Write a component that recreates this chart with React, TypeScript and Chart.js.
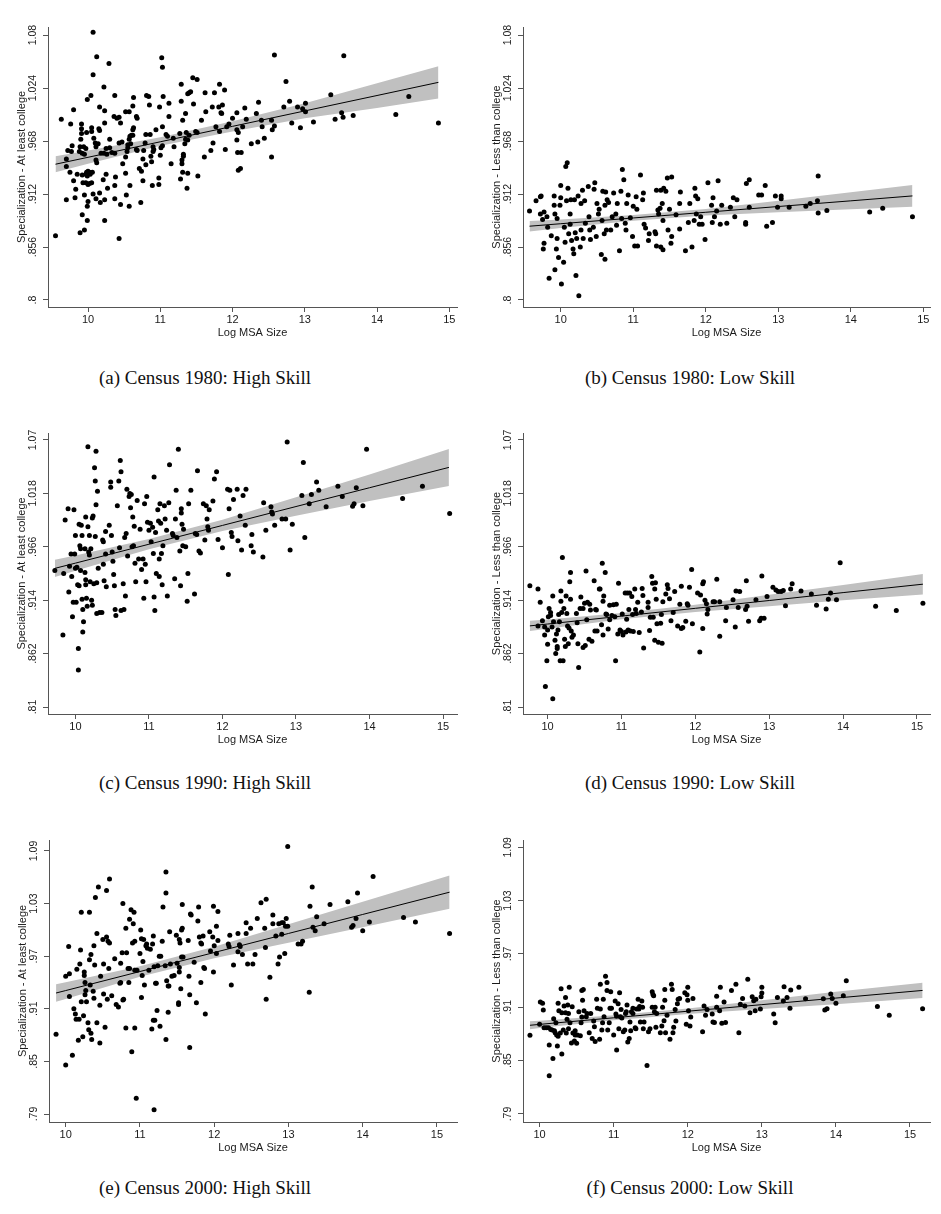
import React, { useEffect, useRef } from "react";
import { Chart, registerables } from "chart.js";

Chart.register(...registerables);

// ---------- shared axis labels ----------
const xTicks = [10, 11, 12, 13, 14, 15];
const xTitle = "Log MSA Size";
const yTitleHigh = "Specialization - At least college";
const yTitleLow = "Specialization - Less than college";

const yTicks1980 = [0.8, 0.856, 0.912, 0.968, 1.024, 1.08];
const yLabels1980 = [".8", ".856", ".912", ".968", "1.024", "1.08"];
const yTicks1990 = [0.81, 0.862, 0.914, 0.966, 1.018, 1.07];
const yLabels1990 = [".81", ".862", ".914", ".966", "1.018", "1.07"];
const yTicks2000 = [0.79, 0.85, 0.91, 0.97, 1.03, 1.09];
const yLabels2000 = [".79", ".85", ".91", ".97", "1.03", "1.09"];

const captions = [
  "(a) Census 1980: High Skill",
  "(b) Census 1980: Low Skill",
  "(c) Census 1990: High Skill",
  "(d) Census 1990: Low Skill",
  "(e) Census 2000: High Skill",
  "(f) Census 2000: Low Skill",
];

// ---------- (a) 1980 high skill ----------
const pointsA: number[][] = [
  [9.55,0.868],[9.63,0.991],[9.70,0.949],[9.70,0.941],[9.70,0.906],[9.76,0.986],[9.75,0.935],[9.80,1.001],[9.78,0.963],[9.72,0.958],
  [9.77,0.957],[9.80,0.926],[9.83,0.917],[9.82,0.908],[9.85,0.933],[9.89,0.871],[9.92,0.890],[9.95,0.874],[9.99,0.884],[9.99,0.899],
  [9.95,0.911],[9.91,0.986],[9.91,0.981],[9.91,0.976],[9.90,0.970],[9.89,0.962],[9.88,0.957],[9.92,0.955],[9.95,0.954],[9.98,0.977],
  [9.99,1.012],[10.04,1.016],[10.07,1.083],[10.12,1.057],[10.07,1.038],[10.05,0.982],[10.05,0.978],[10.08,0.971],[10.11,0.962],[10.10,0.966],
  [10.14,0.965],[10.16,0.979],[10.15,0.981],[10.11,0.948],[10.12,0.945],[10.16,1.004],[10.23,1.000],[10.23,0.987],[10.22,1.025],[10.18,0.955],
  [10.22,0.955],[10.26,0.954],[10.25,0.960],[10.16,0.913],[10.17,0.903],[10.23,0.906],[10.23,0.884],[10.21,0.927],[10.25,0.933],[9.98,0.935],
  [10.00,0.936],[10.02,0.935],[10.06,0.935],[10.03,0.933],[9.99,0.931],[9.93,0.924],[9.97,0.924],[10.00,0.922],[10.02,0.923],[10.05,0.924],
  [9.92,0.932],[9.97,0.933],[9.94,0.962],[9.97,0.960],[10.00,0.904],[10.07,0.912],[10.11,0.907],[10.29,1.050],[10.27,0.918],[10.30,0.970],
  [10.30,0.961],[10.33,0.956],[10.37,1.016],[10.36,0.994],[10.40,0.992],[10.43,0.993],[10.45,0.987],[10.37,0.921],[10.37,0.907],[10.38,0.930],
  [10.37,0.955],[10.43,0.865],[10.45,0.901],[10.43,0.966],[10.47,0.967],[10.48,0.944],[10.52,0.951],[10.52,0.934],[10.53,0.911],[10.54,0.957],
  [10.52,0.999],[10.57,0.999],[10.57,0.970],[10.58,0.973],[10.55,0.961],[10.58,0.921],[10.57,0.899],[10.60,0.974],[10.62,1.005],[10.63,1.014],
  [10.62,0.980],[10.63,0.982],[10.67,0.994],[10.68,0.992],[10.67,0.959],[10.68,0.958],[10.62,0.974],[10.59,0.965],[10.55,0.964],[10.71,0.939],
  [10.73,0.903],[10.74,0.936],[10.76,0.949],[10.76,0.926],[10.77,0.958],[10.79,0.966],[10.80,0.975],[10.80,0.943],[10.81,1.016],[10.84,1.015],
  [10.85,1.006],[10.86,0.975],[10.87,0.952],[10.88,0.946],[10.90,0.962],[10.90,0.957],[10.89,0.921],[10.94,0.980],[10.91,0.959],[10.99,1.004],
  [11.00,0.953],[11.01,0.961],[11.03,0.963],[10.98,0.922],[10.98,0.929],[11.02,1.056],[11.03,1.046],[11.04,1.015],[11.03,0.983],[11.08,0.975],
  [11.10,0.973],[11.12,1.008],[11.12,0.994],[11.15,0.944],[11.18,0.971],[11.19,0.962],[11.29,1.028],[11.29,1.010],[11.27,0.976],[11.28,0.928],
  [11.30,0.944],[11.30,0.948],[11.32,0.952],[11.32,0.954],[11.34,0.965],[11.35,0.970],[11.31,0.990],[11.31,0.935],[11.35,0.997],[11.38,1.018],
  [11.40,1.019],[11.42,1.020],[11.37,0.918],[11.38,0.934],[11.36,0.977],[11.38,0.969],[11.40,0.974],[11.45,1.035],[11.46,1.007],[11.51,1.033],
  [11.49,0.978],[11.51,0.977],[11.52,0.931],[11.57,0.990],[11.61,0.951],[11.62,1.019],[11.63,0.999],[11.70,0.958],[11.72,1.004],[11.73,0.966],
  [11.75,1.019],[11.77,0.983],[11.81,1.004],[11.82,0.978],[11.82,1.028],[11.84,0.998],[11.86,1.006],[11.89,1.022],[11.90,0.959],[11.85,0.997],
  [11.92,0.983],[11.95,0.986],[12.00,0.992],[12.06,0.998],[12.06,0.980],[12.06,0.969],[12.08,0.977],[12.07,0.956],[12.12,0.956],[12.08,0.937],
  [12.11,0.939],[12.14,0.983],[12.17,1.003],[12.19,0.991],[12.26,0.965],[12.33,0.997],[12.35,0.967],[12.36,1.009],[12.40,0.990],[12.41,0.983],
  [12.44,0.971],[12.54,0.951],[12.54,0.990],[12.55,0.980],[12.58,0.984],[12.58,1.059],[12.71,1.004],[12.74,1.031],[12.79,1.010],[12.82,0.987],
  [12.90,1.004],[12.94,0.982],[12.97,1.002],[13.01,0.999],[13.01,1.008],[13.12,0.988],[13.42,0.991],[13.51,0.998],[13.53,0.993],[13.54,1.058],
  [13.36,1.017],[13.67,0.995],[14.26,0.996],[14.44,1.015],[14.85,0.987],
];
const bandXA = [9.55, 10, 11, 12, 13, 14, 14.85];
const fitA = [0.9435, 0.9508, 0.9672, 0.9835, 0.9998, 1.0161, 1.030];
const upperA = [0.952, 0.958, 0.972, 0.989, 1.008, 1.029, 1.047];
const lowerA = [0.935, 0.944, 0.963, 0.978, 0.992, 1.003, 1.013];

// ---------- (b) 1980 low skill ----------
const pointsB: number[][] = [
  [9.57,0.894],[9.66,0.905],[9.72,0.909],[9.73,0.910],[9.72,0.891],[9.75,0.885],[9.77,0.893],[9.77,0.860],[9.76,0.854],[9.81,0.888],
  [9.82,0.877],[9.84,0.823],[9.87,0.868],[9.91,0.910],[9.91,0.900],[9.92,0.891],[9.92,0.832],[9.94,0.854],[9.95,0.865],[9.95,0.886],
  [9.97,0.845],[9.99,0.900],[10.00,0.908],[10.00,0.921],[10.01,0.817],[10.04,0.840],[10.05,0.877],[10.06,0.861],[10.07,0.941],[10.09,0.945],
  [10.08,0.905],[10.10,0.918],[10.11,0.870],[10.13,0.891],[10.13,0.880],[10.14,0.906],[10.15,0.863],[10.17,0.854],[10.18,0.849],[10.21,0.826],
  [10.19,0.906],[10.20,0.871],[10.22,0.865],[10.24,0.910],[10.25,0.8045],[10.27,0.856],[10.28,0.902],[10.28,0.874],[10.30,0.916],[10.31,0.865],
  [10.33,0.905],[10.34,0.881],[10.38,0.920],[10.39,0.888],[10.40,0.874],[10.41,0.864],[10.45,0.877],[10.46,0.917],[10.47,0.924],[10.49,0.867],
  [10.50,0.902],[10.52,0.891],[10.53,0.896],[10.56,0.848],[10.57,0.884],[10.58,0.915],[10.60,0.870],[10.61,0.843],[10.61,0.900],[10.62,0.914],
  [10.63,0.874],[10.64,0.906],[10.66,0.903],[10.69,0.874],[10.71,0.888],[10.73,0.913],[10.76,0.891],[10.77,0.879],[10.78,0.902],[10.81,0.852],
  [10.83,0.915],[10.84,0.886],[10.85,0.938],[10.87,0.927],[10.89,0.881],[10.90,0.874],[10.91,0.902],[10.93,0.911],[10.96,0.887],[10.99,0.867],
  [11.00,0.899],[11.02,0.857],[11.04,0.909],[11.05,0.896],[11.06,0.857],[11.10,0.932],[11.13,0.906],[11.14,0.913],[11.15,0.880],[11.17,0.876],
  [11.21,0.863],[11.22,0.870],[11.30,0.872],[11.31,0.870],[11.32,0.916],[11.32,0.857],[11.34,0.895],[11.35,0.891],[11.37,0.897],[11.38,0.916],
  [11.38,0.856],[11.41,0.853],[11.40,0.902],[11.41,0.884],[11.42,0.918],[11.45,0.915],[11.47,0.929],[11.48,0.874],[11.50,0.896],[11.52,0.860],
  [11.53,0.867],[11.53,0.930],[11.59,0.890],[11.64,0.875],[11.64,0.902],[11.65,0.914],[11.72,0.852],[11.76,0.882],[11.78,0.902],[11.81,0.856],
  [11.84,0.884],[11.85,0.918],[11.86,0.910],[11.87,0.891],[11.89,0.907],[11.91,0.880],[11.93,0.888],[11.95,0.880],[11.99,0.864],[12.03,0.924],
  [12.08,0.900],[12.09,0.882],[12.10,0.908],[12.12,0.888],[12.15,0.894],[12.17,0.926],[12.20,0.880],[12.22,0.900],[12.29,0.881],[12.34,0.898],
  [12.38,0.908],[12.40,0.888],[12.43,0.906],[12.55,0.882],[12.55,0.880],[12.56,0.923],[12.60,0.927],[12.60,0.898],[12.73,0.911],[12.77,0.911],
  [12.82,0.921],[12.84,0.878],[12.92,0.882],[12.96,0.910],[12.99,0.898],[13.04,0.907],[13.04,0.910],[13.15,0.898],[13.38,0.899],[13.44,0.902],
  [13.54,0.905],[13.55,0.892],[13.55,0.931],[13.67,0.8945],[14.26,0.893],[14.44,0.897],[14.85,0.888],
];
const bandXB = [9.57, 10, 11, 12, 13, 14, 14.85];
const fitB = [0.878, 0.8806, 0.8867, 0.8927, 0.8988, 0.9048, 0.910];
const upperB = [0.8835, 0.8851, 0.8897, 0.8962, 0.9048, 0.9138, 0.9215];
const lowerB = [0.8725, 0.8761, 0.8837, 0.8892, 0.8928, 0.8958, 0.8985];

// ---------- (c) 1990 high skill ----------
const pointsC: number[][] = [
  [9.72,0.943],[9.83,0.880],[9.84,0.940],[9.86,0.992],[9.90,1.003],[9.91,0.922],[9.92,0.947],[9.94,0.959],[9.95,0.937],[9.96,0.898],
  [9.97,0.912],[9.98,1.002],[9.99,0.959],[10.00,0.977],[10.00,0.945],[10.01,0.912],[10.02,0.946],[10.03,0.929],[10.04,0.867],[10.04,0.846],
  [10.05,0.988],[10.05,0.928],[10.06,0.967],[10.07,0.964],[10.07,0.943],[10.08,0.987],[10.09,0.977],[10.09,0.915],[10.10,0.883],[10.10,0.905],
  [10.11,0.893],[10.13,0.941],[10.13,0.964],[10.14,0.995],[10.14,0.934],[10.14,0.929],[10.15,0.916],[10.16,0.908],[10.17,1.0635],[10.17,0.9855],
  [10.18,0.961],[10.19,0.977],[10.19,0.958],[10.20,0.932],[10.21,0.964],[10.22,0.914],[10.23,0.994],[10.23,0.909],[10.24,0.996],[10.25,0.930],
  [10.26,1.043],[10.27,1.030],[10.27,0.976],[10.28,1.059],[10.28,1.007],[10.29,0.901],[10.29,0.931],[10.30,1.020],[10.31,0.945],[10.33,0.902],
  [10.36,0.902],[10.37,0.9725],[10.38,0.971],[10.38,0.949],[10.39,0.933],[10.41,0.981],[10.41,0.959],[10.42,0.927],[10.46,0.987],[10.48,1.024],
  [10.48,1.029],[10.49,0.977],[10.50,0.961],[10.51,0.952],[10.52,0.939],[10.53,0.928],[10.54,0.905],[10.55,0.899],[10.57,1.006],[10.59,1.030],
  [10.60,0.965],[10.61,1.050],[10.62,1.039],[10.62,0.904],[10.65,0.930],[10.66,0.905],[10.67,0.975],[10.68,0.918],[10.69,0.979],[10.70,1.022],
  [10.71,0.957],[10.73,1.015],[10.74,1.018],[10.75,1.004],[10.76,1.017],[10.77,0.966],[10.78,0.995],[10.79,0.967],[10.80,0.986],[10.81,0.950],
  [10.82,0.932],[10.84,1.011],[10.86,0.954],[10.88,0.983],[10.90,0.944],[10.92,0.954],[10.93,0.916],[10.94,1.008],[10.95,0.949],[10.96,0.932],
  [10.97,1.015],[10.98,0.990],[11.00,0.982],[11.02,0.989],[11.03,0.971],[11.05,0.985],[11.06,0.9595],[11.07,1.034],[11.07,0.917],[11.08,0.904],
  [11.09,0.980],[11.10,0.940],[11.12,1.002],[11.13,0.991],[11.14,0.954],[11.14,0.937],[11.15,1.008],[11.16,0.989],[11.17,0.9595],[11.18,0.929],
  [11.19,0.967],[11.21,1.006],[11.22,0.993],[11.24,0.982],[11.25,0.918],[11.27,1.009],[11.28,1.046],[11.32,0.979],[11.33,0.977],[11.35,0.935],
  [11.36,0.993],[11.37,1.021],[11.38,0.975],[11.40,1.061],[11.42,0.962],[11.43,0.928],[11.44,1.003],[11.44,0.999],[11.45,0.988],[11.46,0.967],
  [11.47,0.983],[11.50,0.966],[11.52,0.913],[11.53,0.940],[11.54,1.008],[11.57,1.021],[11.62,0.920],[11.63,0.979],[11.65,0.978],[11.66,1.040],
  [11.68,0.962],[11.70,0.960],[11.74,1.008],[11.76,0.9725],[11.78,1.006],[11.79,0.993],[11.80,0.9855],[11.81,0.982],[11.82,1.002],[11.87,1.0105],
  [11.89,1.032],[11.92,1.039],[11.94,0.973],[12.00,0.965],[12.07,1.022],[12.08,0.939],[12.09,1.003],[12.10,1.021],[12.12,0.980],[12.13,0.976],
  [12.15,1.012],[12.20,1.022],[12.21,0.972],[12.24,0.996],[12.26,0.963],[12.28,1.016],[12.31,0.987],[12.32,1.022],[12.39,0.967],[12.40,0.978],
  [12.42,0.961],[12.55,0.956],[12.56,1.009],[12.59,0.982],[12.66,1.005],[12.67,1.000],[12.68,0.998],[12.71,0.987],[12.81,0.993],[12.86,0.993],
  [12.88,1.068],[12.92,0.963],[12.95,0.988],[13.08,1.016],[13.10,1.048],[13.12,0.975],[13.18,1.008],[13.21,1.017],[13.28,1.029],[13.31,1.021],
  [13.41,1.005],[13.57,1.025],[13.63,1.015],[13.82,1.0235],[13.79,1.008],[13.77,1.0055],[13.91,1.006],[13.96,1.061],[14.45,1.013],[14.72,1.025],
  [15.09,0.9985],
];
const bandXC = [9.72, 10, 11, 12, 13, 14, 15.08];
const fitC = [0.945, 0.9501, 0.9685, 0.9868, 1.0052, 1.0235, 1.0433];
const upperC = [0.9535, 0.9576, 0.9735, 0.9923, 1.0142, 1.0365, 1.0613];
const lowerC = [0.9365, 0.9426, 0.9635, 0.9813, 0.9962, 1.0105, 1.0253];

// ---------- (d) 1990 low skill ----------
const pointsD: number[][] = [
  [9.76,0.928],[9.87,0.925],[9.87,0.889],[9.90,0.912],[9.93,0.894],[9.96,0.888],[9.96,0.880],[9.97,0.830],[9.99,0.855],[10.00,0.871],
  [10.00,0.885],[10.01,0.898],[10.02,0.906],[10.04,0.899],[10.04,0.902],[10.06,0.888],[10.07,0.918],[10.07,0.818],[10.08,0.893],[10.10,0.875],
  [10.11,0.862],[10.12,0.881],[10.13,0.867],[10.13,0.869],[10.14,0.885],[10.15,0.900],[10.16,0.893],[10.17,0.855],[10.18,0.923],[10.18,0.913],
  [10.19,0.902],[10.20,0.9555],[10.21,0.855],[10.22,0.906],[10.23,0.876],[10.24,0.869],[10.25,0.918],[10.26,0.901],[10.27,0.889],[10.28,0.8715],
  [10.29,0.887],[10.30,0.932],[10.31,0.941],[10.31,0.915],[10.32,0.884],[10.33,0.878],[10.35,0.880],[10.39,0.901],[10.40,0.892],[10.41,0.8715],
  [10.42,0.8485],[10.44,0.906],[10.45,0.917],[10.48,0.906],[10.48,0.868],[10.50,0.911],[10.51,0.870],[10.52,0.9425],[10.53,0.895],[10.54,0.912],
  [10.56,0.876],[10.57,0.910],[10.58,0.9045],[10.60,0.874],[10.63,0.933],[10.64,0.884],[10.65,0.905],[10.66,0.9045],[10.67,0.884],[10.70,0.925],
  [10.71,0.925],[10.73,0.890],[10.74,0.950],[10.75,0.880],[10.75,0.913],[10.76,0.918],[10.78,0.941],[10.79,0.9005],[10.80,0.900],[10.82,0.886],
  [10.84,0.909],[10.84,0.895],[10.87,0.899],[10.89,0.9095],[10.91,0.898],[10.92,0.855],[10.93,0.910],[10.95,0.881],[10.96,0.9305],[10.98,0.885],
  [11.00,0.8835],[11.01,0.9005],[11.02,0.880],[11.05,0.921],[11.06,0.883],[11.07,0.8955],[11.08,0.921],[11.09,0.885],[11.10,0.905],[11.11,0.921],
  [11.12,0.884],[11.14,0.9175],[11.15,0.900],[11.16,0.8835],[11.18,0.925],[11.19,0.905],[11.20,0.901],[11.22,0.912],[11.24,0.8825],[11.27,0.9025],
  [11.28,0.9255],[11.29,0.9185],[11.30,0.8675],[11.36,0.912],[11.36,0.907],[11.38,0.8845],[11.39,0.8975],[11.41,0.937],[11.42,0.9305],[11.43,0.8975],
  [11.45,0.925],[11.45,0.875],[11.46,0.931],[11.47,0.915],[11.48,0.891],[11.50,0.873],[11.53,0.8915],[11.54,0.900],[11.55,0.872],[11.56,0.9125],
  [11.60,0.920],[11.62,0.929],[11.63,0.9255],[11.65,0.9155],[11.67,0.894],[11.70,0.902],[11.72,0.9225],[11.76,0.889],[11.79,0.910],[11.81,0.8865],
  [11.81,0.9275],[11.83,0.8875],[11.87,0.8935],[11.89,0.9105],[11.90,0.909],[11.92,0.9265],[11.95,0.944],[11.96,0.891],[12.03,0.921],[12.06,0.8635],
  [12.07,0.919],[12.10,0.8865],[12.10,0.930],[12.11,0.932],[12.13,0.914],[12.15,0.9105],[12.16,0.9005],[12.17,0.905],[12.24,0.9125],[12.26,0.9125],
  [12.29,0.9345],[12.33,0.879],[12.33,0.9125],[12.41,0.894],[12.42,0.907],[12.51,0.9145],[12.54,0.888],[12.55,0.923],[12.58,0.907],[12.60,0.9225],
  [12.68,0.905],[12.69,0.933],[12.70,0.908],[12.72,0.8935],[12.82,0.9145],[12.87,0.894],[12.89,0.8965],[12.90,0.9375],[12.93,0.8965],[12.97,0.9175],
  [13.05,0.9265],[13.09,0.924],[13.12,0.9225],[13.16,0.9225],[13.19,0.9235],[13.22,0.9085],[13.29,0.925],[13.31,0.930],[13.43,0.923],[13.57,0.920],
  [13.64,0.909],[13.77,0.9055],[13.80,0.915],[13.83,0.921],[13.91,0.9145],[13.96,0.9505],[14.44,0.908],[14.72,0.904],[15.08,0.911],
];
const bandXD = [9.76, 10, 11, 12, 13, 14, 15.08];
const fitD = [0.889, 0.8908, 0.8985, 0.9061, 0.9137, 0.9214, 0.9296];
const upperD = [0.894, 0.8953, 0.9015, 0.9096, 0.9192, 0.9289, 0.9396];
const lowerD = [0.884, 0.8863, 0.8955, 0.9026, 0.9082, 0.9139, 0.9196];

// ---------- (e) 2000 high skill ----------
const pointsE: number[][] = [
  [9.87,0.881],[10.00,0.846],[10.00,0.947],[10.04,0.981],[10.05,0.950],[10.05,0.924],[10.09,0.857],[10.11,0.910],[10.13,0.904],[10.14,0.898],
  [10.15,0.955],[10.17,0.874],[10.18,0.898],[10.19,0.961],[10.20,0.977],[10.21,1.020],[10.21,0.918],[10.23,0.878],[10.24,0.902],[10.25,0.952],
  [10.25,0.948],[10.26,0.940],[10.26,0.926],[10.27,0.931],[10.28,0.918],[10.30,0.894],[10.31,0.886],[10.32,1.020],[10.32,0.966],[10.33,0.937],
  [10.34,0.882],[10.34,0.972],[10.35,0.875],[10.37,0.930],[10.38,0.982],[10.38,0.922],[10.39,0.960],[10.40,1.037],[10.42,0.894],[10.42,0.996],
  [10.44,1.049],[10.46,0.914],[10.46,0.871],[10.47,0.947],[10.50,0.989],[10.51,0.961],[10.51,0.927],[10.53,0.889],[10.55,1.045],[10.55,0.992],
  [10.56,0.921],[10.57,0.987],[10.58,0.956],[10.59,1.058],[10.59,0.985],[10.62,0.925],[10.66,0.967],[10.68,0.915],[10.71,0.912],[10.73,0.939],
  [10.74,0.940],[10.74,0.962],[10.76,0.974],[10.77,1.030],[10.77,0.920],[10.78,0.921],[10.81,1.002],[10.81,0.888],[10.82,0.974],[10.84,0.956],
  [10.85,0.940],[10.86,0.956],[10.86,1.012],[10.88,1.023],[10.89,0.861],[10.90,0.985],[10.91,1.007],[10.92,1.020],[10.93,0.888],[10.93,0.987],
  [10.93,0.954],[10.95,0.808],[10.96,0.954],[11.00,0.973],[11.01,1.000],[11.02,0.923],[11.02,0.990],[11.03,0.948],[11.04,0.964],[11.05,0.989],
  [11.06,0.937],[11.08,0.982],[11.09,0.984],[11.10,0.979],[11.12,0.954],[11.14,0.978],[11.16,0.887],[11.17,0.984],[11.18,0.897],[11.18,0.993],
  [11.19,0.958],[11.19,0.795],[11.20,0.897],[11.21,0.939],[11.22,0.939],[11.23,0.908],[11.24,0.959],[11.26,0.970],[11.27,0.890],[11.28,0.970],
  [11.30,0.987],[11.31,1.026],[11.34,0.959],[11.35,0.875],[11.35,1.042],[11.35,1.066],[11.36,0.942],[11.38,0.906],[11.38,0.936],[11.39,0.936],
  [11.40,0.998],[11.41,0.961],[11.43,0.947],[11.46,0.948],[11.49,0.994],[11.50,0.962],[11.52,0.915],[11.52,0.917],[11.53,0.989],[11.53,0.957],
  [11.53,0.952],[11.54,0.985],[11.55,0.933],[11.56,0.969],[11.56,1.000],[11.57,1.002],[11.57,1.029],[11.58,0.969],[11.65,0.988],[11.66,0.947],
  [11.67,0.926],[11.68,1.018],[11.69,1.017],[11.67,0.866],[11.73,0.963],[11.76,0.917],[11.78,1.010],[11.79,1.026],[11.80,0.992],[11.82,0.985],
  [11.82,0.940],[11.83,0.984],[11.85,0.993],[11.86,0.957],[11.87,0.956],[11.88,0.904],[11.94,0.998],[11.95,0.976],[11.98,0.992],[11.99,1.027],
  [11.99,0.952],[12.00,0.982],[12.03,1.004],[12.03,0.973],[12.05,1.021],[12.05,0.988],[12.19,0.984],[12.20,0.981],[12.21,0.994],[12.23,0.937],
  [12.26,0.960],[12.32,0.996],[12.32,0.975],[12.34,0.983],[12.35,0.981],[12.38,0.972],[12.43,0.996],[12.43,1.008],[12.45,0.961],[12.49,1.002],
  [12.52,0.961],[12.55,0.972],[12.58,1.013],[12.63,1.031],[12.68,1.002],[12.69,0.980],[12.70,1.035],[12.70,0.921],[12.75,0.946],[12.79,1.017],
  [12.79,1.007],[12.83,0.993],[12.86,0.961],[12.87,1.007],[12.88,0.969],[12.91,0.995],[12.91,1.008],[12.93,1.008],[12.95,0.973],[12.96,1.004],
  [12.97,1.013],[12.99,1.095],[12.99,1.004],[13.13,0.984],[13.17,0.984],[13.19,0.987],[13.28,0.929],[13.29,1.027],[13.32,1.049],[13.33,1.003],
  [13.36,0.999],[13.38,1.015],[13.48,1.007],[13.56,1.029],[13.80,1.032],[13.93,1.042],[13.91,1.013],[13.87,1.005],[13.85,1.003],[14.00,0.999],
  [14.09,1.009],[14.14,1.061],[14.55,1.014],[14.71,1.009],[15.17,0.996],
];
const bandXE = [9.87, 10, 11, 12, 13, 14, 15.17];
const fitE = [0.928, 0.9308, 0.9525, 0.9742, 0.9959, 1.0176, 1.043];
const upperE = [0.938, 0.9403, 0.9585, 0.9807, 1.0064, 1.0321, 1.062];
const lowerE = [0.918, 0.9213, 0.9465, 0.9677, 0.9854, 1.0031, 1.024];

// ---------- (f) 2000 low skill ----------
const pointsF: number[][] = [
  [9.87,0.8785],[10.00,0.891],[10.01,0.916],[10.04,0.9145],[10.05,0.907],[10.06,0.887],[10.09,0.887],[10.12,0.887],[10.13,0.8675],[10.13,0.833],
  [10.15,0.885],[10.17,0.8845],[10.18,0.8525],[10.19,0.897],[10.20,0.8835],[10.21,0.8815],[10.22,0.8925],[10.23,0.879],[10.24,0.8665],[10.25,0.8775],
  [10.25,0.9145],[10.26,0.906],[10.28,0.881],[10.29,0.931],[10.30,0.8575],[10.30,0.904],[10.32,0.8845],[10.33,0.9115],[10.35,0.921],[10.35,0.904],
  [10.36,0.881],[10.37,0.8965],[10.38,0.9125],[10.39,0.886],[10.39,0.903],[10.40,0.9325],[10.41,0.8925],[10.43,0.870],[10.44,0.9105],[10.45,0.881],
  [10.47,0.872],[10.48,0.8835],[10.48,0.879],[10.50,0.8695],[10.51,0.879],[10.53,0.905],[10.55,0.878],[10.56,0.8925],[10.57,0.899],[10.57,0.929],
  [10.58,0.918],[10.59,0.930],[10.60,0.906],[10.63,0.8995],[10.64,0.903],[10.67,0.8815],[10.69,0.903],[10.71,0.875],[10.73,0.8945],[10.74,0.888],
  [10.75,0.8715],[10.77,0.919],[10.78,0.909],[10.81,0.874],[10.82,0.936],[10.82,0.908],[10.84,0.8845],[10.85,0.8925],[10.86,0.919],[10.87,0.8995],
  [10.89,0.945],[10.91,0.929],[10.91,0.938],[10.92,0.8845],[10.94,0.8925],[10.95,0.909],[10.96,0.9275],[10.97,0.909],[11.00,0.879],[11.02,0.917],
  [11.03,0.9025],[11.04,0.862],[11.04,0.900],[11.06,0.914],[11.07,0.886],[11.08,0.9265],[11.09,0.8995],[11.10,0.9075],[11.11,0.898],[11.13,0.8825],
  [11.15,0.8845],[11.16,0.903],[11.17,0.905],[11.18,0.9125],[11.19,0.871],[11.21,0.875],[11.22,0.8935],[11.23,0.8835],[11.24,0.905],[11.26,0.903],
  [11.26,0.909],[11.29,0.887],[11.30,0.886],[11.31,0.908],[11.33,0.919],[11.34,0.908],[11.35,0.911],[11.36,0.8935],[11.38,0.917],[11.39,0.910],
  [11.40,0.886],[11.41,0.8935],[11.45,0.8445],[11.47,0.8825],[11.49,0.886],[11.52,0.910],[11.52,0.9275],[11.53,0.9245],[11.54,0.923],[11.55,0.905],
  [11.56,0.910],[11.57,0.8875],[11.58,0.903],[11.63,0.8815],[11.65,0.889],[11.66,0.910],[11.68,0.895],[11.69,0.930],[11.69,0.918],[11.70,0.8815],
  [11.72,0.901],[11.76,0.874],[11.78,0.936],[11.79,0.930],[11.80,0.8815],[11.81,0.8875],[11.83,0.9075],[11.84,0.8945],[11.86,0.914],[11.87,0.919],
  [11.89,0.920],[11.96,0.9265],[11.98,0.891],[11.99,0.924],[12.00,0.9325],[12.00,0.918],[12.01,0.906],[12.03,0.889],[12.04,0.899],[12.07,0.920],
  [12.20,0.8825],[12.22,0.9115],[12.24,0.901],[12.26,0.9075],[12.33,0.9025],[12.34,0.8935],[12.36,0.893],[12.39,0.9225],[12.39,0.910],[12.43,0.906],
  [12.44,0.9325],[12.46,0.892],[12.49,0.916],[12.51,0.893],[12.59,0.929],[12.65,0.936],[12.69,0.8815],[12.71,0.9135],[12.74,0.920],[12.77,0.9115],
  [12.81,0.9415],[12.84,0.904],[12.87,0.922],[12.89,0.9175],[12.91,0.906],[12.92,0.919],[12.98,0.908],[12.99,0.922],[13.00,0.926],[13.00,0.9325],
  [13.16,0.9025],[13.18,0.8925],[13.21,0.921],[13.29,0.917],[13.30,0.933],[13.34,0.921],[13.38,0.909],[13.39,0.9295],[13.50,0.9325],[13.59,0.9195],
  [13.83,0.9195],[13.85,0.907],[13.88,0.9085],[13.93,0.925],[13.95,0.920],[14.00,0.9145],[14.10,0.923],[14.14,0.940],[14.56,0.911],[14.72,0.901],
  [15.17,0.9085],
];
const bandXF = [9.87, 10, 11, 12, 13, 14, 15.17];
const fitF = [0.8898, 0.8908, 0.8982, 0.9056, 0.913, 0.9204, 0.929];
const upperF = [0.8943, 0.8948, 0.901, 0.9086, 0.918, 0.9274, 0.9375];
const lowerF = [0.8853, 0.8868, 0.8954, 0.9026, 0.908, 0.9134, 0.9205];

// ---------- panel layout (page pixels) ----------
type PanelCfg = {
  left: number; top: number; w: number; h: number;
  yw: number; padTop: number; padRight: number; xh: number;
  xmin: number; xmax: number; ymin: number; ymax: number;
  points: number[][]; bandX: number[]; fit: number[]; upper: number[]; lower: number[];
  yTicks: number[]; yLabels: string[]; yTitle: string;
};

const panels: PanelCfg[] = [
  { left: 0, top: 0, w: 470, h: 360, yw: 48, padTop: 27, padRight: 13, xh: 53,
    xmin: 9.446, xmax: 15.107, ymin: 0.7926, ymax: 1.0885,
    points: pointsA, bandX: bandXA, fit: fitA, upper: upperA, lower: lowerA,
    yTicks: yTicks1980, yLabels: yLabels1980, yTitle: yTitleHigh },
  { left: 470, top: 0, w: 471, h: 360, yw: 53, padTop: 27, padRight: 11, xh: 53,
    xmin: 9.48, xmax: 15.092, ymin: 0.7926, ymax: 1.0885,
    points: pointsB, bandX: bandXB, fit: fitB, upper: upperB, lower: lowerB,
    yTicks: yTicks1980, yLabels: yLabels1980, yTitle: yTitleLow },
  { left: 0, top: 400, w: 470, h: 360, yw: 48, padTop: 33, padRight: 13, xh: 46,
    xmin: 9.627, xmax: 15.19, ymin: 0.8032, ymax: 1.0768,
    points: pointsC, bandX: bandXC, fit: fitC, upper: upperC, lower: lowerC,
    yTicks: yTicks1990, yLabels: yLabels1990, yTitle: yTitleHigh },
  { left: 470, top: 400, w: 471, h: 360, yw: 53, padTop: 33, padRight: 11, xh: 46,
    xmin: 9.667, xmax: 15.176, ymin: 0.8032, ymax: 1.0768,
    points: pointsD, bandX: bandXD, fit: fitD, upper: upperD, lower: lowerD,
    yTicks: yTicks1990, yLabels: yLabels1990, yTitle: yTitleLow },
  { left: 0, top: 800, w: 470, h: 360, yw: 49, padTop: 40, padRight: 13, xh: 38,
    xmin: 9.775, xmax: 15.27, ymin: 0.7809, ymax: 1.1025,
    points: pointsE, bandX: bandXE, fit: fitE, upper: upperE, lower: lowerE,
    yTicks: yTicks2000, yLabels: yLabels2000, yTitle: yTitleHigh },
  { left: 470, top: 800, w: 471, h: 360, yw: 53, padTop: 40, padRight: 11, xh: 38,
    xmin: 9.776, xmax: 15.27, ymin: 0.781, ymax: 1.0982,
    points: pointsF, bandX: bandXF, fit: fitF, upper: upperF, lower: lowerF,
    yTicks: yTicks2000, yLabels: yLabels2000, yTitle: yTitleLow },
];

const captionPos = [
  { cx: 205, cy: 378 }, { cx: 690, cy: 378 },
  { cx: 205, cy: 783 }, { cx: 690, cy: 783 },
  { cx: 205, cy: 1188 }, { cx: 690, cy: 1188 },
];

const SANS = "'Liberation Sans', Arial, Helvetica, sans-serif";
const AXIS = "#555555";

function Panel({ cfg }: { cfg: PanelCfg }) {
  const ref = useRef<HTMLCanvasElement | null>(null);
  useEffect(() => {
    const canvas = ref.current;
    if (!canvas) return;
    const band = (ys: number[]) => cfg.bandX.map((x, i) => ({ x, y: ys[i] }));
    const textPlugin = {
      id: "stataText",
      afterDraw(chart: any) {
        const ctx = chart.ctx as CanvasRenderingContext2D;
        const ca = chart.chartArea;
        const xs = chart.scales.x;
        const ys = chart.scales.y;
        ctx.save();
        ctx.fillStyle = "#1a1a1a";
        ctx.textAlign = "center";
        ctx.textBaseline = "middle";
        ctx.font = `11px ${SANS}`;
        xTicks.forEach((v) => {
          ctx.fillText(String(v), xs.getPixelForValue(v), ca.bottom + 13);
        });
        ctx.font = `11px ${SANS}`;
        ctx.fillText(xTitle, (ca.left + ca.right) / 2, ca.bottom + 26);
        cfg.yTicks.forEach((v, i) => {
          const py = ys.getPixelForValue(v);
          ctx.save();
          ctx.translate(ca.left - 14.5, py);
          ctx.rotate(-Math.PI / 2);
          ctx.font = `10.5px ${SANS}`;
          ctx.fillText(cfg.yLabels[i], 0, 0);
          ctx.restore();
        });
        ctx.save();
        ctx.translate(ca.left - 26, (ca.top + ca.bottom) / 2);
        ctx.rotate(-Math.PI / 2);
        ctx.font = `11px ${SANS}`;
        ctx.fillText(cfg.yTitle, 0, 0);
        ctx.restore();
        ctx.restore();
      },
    };
    const chart = new Chart(canvas, {
      type: "scatter",
      data: {
        datasets: [
          {
            type: "scatter",
            data: cfg.points.map(([x, y]) => ({ x, y })),
            backgroundColor: "#000000",
            borderColor: "#000000",
            borderWidth: 0,
            pointRadius: 2.5,
            order: 0,
          } as any,
          {
            type: "line",
            data: band(cfg.fit),
            borderColor: "#000000",
            borderWidth: 1,
            pointRadius: 0,
            fill: false,
            tension: 0,
            order: 1,
          } as any,
          {
            type: "line",
            data: band(cfg.upper),
            borderColor: "rgba(0,0,0,0)",
            borderWidth: 0,
            pointRadius: 0,
            backgroundColor: "#c0c0c0",
            fill: "+1",
            tension: 0,
            order: 2,
          } as any,
          {
            type: "line",
            data: band(cfg.lower),
            borderColor: "rgba(0,0,0,0)",
            borderWidth: 0,
            pointRadius: 0,
            fill: false,
            tension: 0,
            order: 3,
          } as any,
        ],
      },
      options: {
        responsive: false,
        animation: false,
        devicePixelRatio: 1,
        layout: { padding: { top: cfg.padTop, right: cfg.padRight, left: 0, bottom: 0 } },
        plugins: { legend: { display: false }, tooltip: { enabled: false } },
        events: [],
        scales: {
          x: {
            type: "linear",
            position: "bottom",
            min: cfg.xmin,
            max: cfg.xmax,
            afterBuildTicks: (s: any) => { s.ticks = xTicks.map((v) => ({ value: v })); },
            afterFit: (s: any) => { s.height = cfg.xh; },
            ticks: { display: false },
            grid: { drawOnChartArea: false, drawTicks: true, tickLength: 5, color: AXIS, lineWidth: 1 },
            border: { display: true, color: AXIS, width: 1 },
          },
          y: {
            type: "linear",
            position: "left",
            min: cfg.ymin,
            max: cfg.ymax,
            afterBuildTicks: (s: any) => { s.ticks = cfg.yTicks.map((v) => ({ value: v })); },
            afterFit: (s: any) => { s.width = cfg.yw; },
            ticks: { display: false },
            grid: { drawOnChartArea: false, drawTicks: true, tickLength: 5, color: AXIS, lineWidth: 1 },
            border: { display: true, color: AXIS, width: 1 },
          },
        },
      } as any,
      plugins: [textPlugin],
    });
    return () => chart.destroy();
  }, [cfg]);
  return (
    <canvas
      ref={ref}
      width={cfg.w}
      height={cfg.h}
      style={{ position: "absolute", left: cfg.left, top: cfg.top, width: cfg.w, height: cfg.h, display: "block" }}
    />
  );
}

export default function App() {
  return (
    <div style={{ position: "absolute", left: 0, top: 0, width: 941, height: 1214, background: "#ffffff", overflow: "hidden" }}>
      {panels.map((p, i) => (
        <Panel key={i} cfg={p} />
      ))}
      {captions.map((c, i) => (
        <div
          key={"c" + i}
          style={{
            position: "absolute",
            left: captionPos[i].cx - 200,
            top: captionPos[i].cy - 12,
            width: 400,
            height: 24,
            lineHeight: "24px",
            textAlign: "center",
            fontFamily: "'Liberation Serif', 'Times New Roman', serif",
            fontSize: 19,
            color: "#111",
            whiteSpace: "nowrap",
          }}
        >
          {c}
        </div>
      ))}
    </div>
  );
}
